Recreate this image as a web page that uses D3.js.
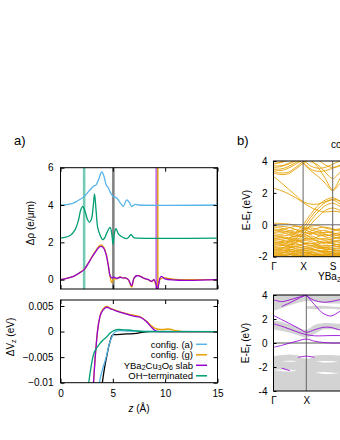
<!DOCTYPE html>
<html>
<head>
<meta charset="utf-8">
<script src="https://cdnjs.cloudflare.com/ajax/libs/d3/7.8.5/d3.min.js"></script>
<style>
body { margin: 0; background: #fff; }
svg text { font-family: "Liberation Sans", Arial, sans-serif; font-size: 10px; fill: #000; }
</style>
</head>
<body>
<script>
// ---- panel a), top: charge difference (e/um) vs z (A)
var zBlue = [0, 1.0, 1.56, 2.26, 2.67, 3.15, 3.4, 3.63, 3.94, 4.12, 4.36, 4.58, 4.8, 5.05, 5.37, 5.79, 6.0, 6.33, 6.58, 6.8, 7.12, 7.5, 15];
var rhoBlue = [4.0, 4.06, 4.2, 4.45, 4.72, 5.0, 5.08, 5.36, 5.77, 5.6, 5.09, 4.91, 4.64, 4.46, 4.37, 4.05, 3.93, 4.28, 4.14, 3.92, 4.03, 4.0, 4.0];

var zGreen = [0, 0.92, 1.4, 1.72, 1.94, 2.13, 2.35, 2.6, 2.78, 2.98, 3.12, 3.25, 3.4, 3.56, 3.78, 4.02, 4.2, 4.42, 4.74, 4.9, 5.02, 5.14, 5.31, 5.53, 5.85, 6.33, 6.55, 6.74, 7.0, 7.4, 15];
var rhoGreen = [2.23, 2.37, 2.68, 3.2, 3.75, 3.93, 3.65, 3.2, 3.08, 3.3, 3.9, 4.59, 3.7, 2.77, 2.4, 2.14, 2.22, 2.5, 2.8, 2.45, 1.9, 2.45, 2.73, 2.45, 2.3, 2.2, 2.3, 2.42, 2.25, 2.23, 2.23];

var zSlab = [0, 1.24, 1.88, 2.26, 2.67, 3.0, 3.31, 3.62, 3.85, 4.1, 4.36, 4.58, 4.74, 4.9, 5.12, 5.37, 5.69, 6.0, 6.2, 6.49, 6.8, 7.03, 7.28, 7.6, 7.92, 8.39, 8.71, 8.93, 9.1, 9.25, 9.4, 9.5, 9.66, 9.98, 15];
var rhoSlab = [0, 0.18, 0.39, 0.54, 0.89, 1.2, 1.46, 1.7, 1.78, 1.7, 1.34, 0.71, 0.21, 0.09, 0.13, 0.07, 0.13, 0.08, 0.1, 0.0, -0.32, 0.09, 0.21, 0.18, 0.09, 0.0, -0.09, 0.0, -0.18, -0.55, -0.2, 0.09, 0.18, 0.04, 0.0];

var zConfG = [0, 1.24, 1.88, 2.26, 2.67, 3.0, 3.31, 3.62, 3.85, 4.1, 4.36, 4.58, 4.74, 4.9, 5.12, 5.37, 5.69, 6.0, 6.2, 6.49, 6.8, 7.03, 7.28, 7.6, 7.92, 8.39, 8.71, 8.93, 9.1, 9.3, 9.5, 9.8, 10.5, 11, 15];
var rhoConfG = [0, 0.18, 0.39, 0.55, 0.9, 1.22, 1.5, 1.76, 1.86, 1.76, 1.38, 0.72, 0.15, -0.15, 0.05, 0.04, 0.15, 0.08, 0.1, -0.02, -0.4, 0.08, 0.22, 0.2, 0.08, 0.0, -0.1, 0.0, -0.25, -0.3, 0.0, 0.1, 0.05, 0.02, 0.0];

// vertical markers (z positions)
var vLineZ = [2.26, 5.05, 15, 9.18, 9.3];
var vLineColor = ["rgba(0,158,115,0.55)", "rgba(0,0,0,0.5)", "rgba(0,0,0,0.5)", "rgba(148,0,211,0.55)", "rgba(230,159,0,0.9)"];

// ---- panel a), bottom: potential difference (eV) vs z (A)
var zVBlack = [3.85, 4.0, 4.2, 4.42, 4.6, 4.74, 4.9, 5.05, 5.2, 6.0, 7.0, 8.5, 15];
var vBlack = [-0.013, -0.01, -0.0072, -0.0048, -0.003, -0.0019, -0.0009, -0.0006, -0.0006, -0.0005, -0.0004, 0.0, 0.0];
var zVBlue = [3.55, 3.72, 4.0, 4.25, 4.42, 4.65, 4.9, 5.21, 5.69, 6.5, 15];
var vBlue = [-0.013, -0.01, -0.0075, -0.0058, -0.0045, -0.0025, -0.0011, -0.0001, 0.0002, 0.0001, 0];
var zVOrange = [3.0, 3.15, 3.3, 3.53, 3.78, 4.1, 4.42, 4.74, 5.37, 6.33, 7.0, 7.6, 8.23, 8.71, 9.2, 9.8, 10.3, 11, 12, 15];
var vOrange = [-0.013, -0.01, -0.0055, 0.0, 0.0031, 0.0045, 0.0049, 0.0046, 0.0041, 0.0035, 0.0032, 0.0029, 0.002, 0.0011, 0.0005, 0.0004, 0.0005, 0.0002, 0, 0];
var zVPurple = [3.0, 3.15, 3.3, 3.53, 3.78, 4.1, 4.42, 4.74, 5.37, 6.33, 7.0, 7.6, 8.23, 8.71, 9.03, 9.4, 15];
var vPurple = [-0.013, -0.01, -0.0055, 0.0, 0.003, 0.0043, 0.00475, 0.0045, 0.004, 0.0034, 0.003, 0.0028, 0.0019, 0.0008, 0.0002, 0, 0];
var zVGreen = [2.55, 2.7, 2.95, 3.2, 3.4, 3.78, 4.1, 4.42, 4.74, 5.21, 5.53, 6.33, 7.0, 8.0, 15];
var vGreen = [-0.013, -0.01, -0.0065, -0.0042, -0.0034, -0.0023, -0.0016, -0.001, -0.0003, 0.0003, 0.0004, 0.0003, 0.0002, 0.0, 0.0];

var legendNames = ["config. (a)", "config. (g)", "slab", "OH\u2212terminated"];
var legendColors = ["#56b4e9", "#e69f00", "#9400d3", "#009e73"];

var rhoTicks = [0, 2, 4, 6];
var vTicks = [-0.01, -0.005, 0, 0.005];
var vTickLabels = ["\u22120.01", "\u22120.005", "0", "0.005"];
var zTicks = [0, 5, 10, 15];

// ---- panel b), top: bands along Gamma-X-S (energies in eV at k grid)
var kTop = [0, 0.25, 0.5, 0.75, 1, 1.25, 1.5, 1.75, 2, 2.25, 2.5];
var kTopTicks = [0, 1, 2];
var kTopLabels = ["\u0393", "X", "S"];
var eTopTicks = [-2, 0, 2, 4];
var bandsTop = [
    [3.95, 4.1, null, null, null, null, null, null, null, null, null],
    [3.85, 3.9, 4.05, null, null, null, null, null, null, null, null],
    [3.8, 3.95, 4.1, null, null, null, null, null, null, null, null],
    [3.7, 3.7, 3.8, 4.0, 4.1, null, null, null, null, null, null],
    [3.6, 3.65, 3.85, 4.1, null, null, null, null, null, null, null],
    [3.5, 3.5, 3.65, 3.9, 4.1, null, null, null, null, null, null],
    [3.45, 3.4, 3.55, 3.8, 4.1, null, null, null, null, null, null],
    [3.35, 3.25, 3.3, 3.6, 3.95, 4.1, null, null, null, null, null],
    [3.25, 3.15, 3.2, 3.5, 3.85, 4.1, null, null, null, null, null],
    [3.05, 2.65, 2.25, 1.85, 1.45, 1.3, 1.3, 1.45, 1.6, 1.5, 1.3],
    [2.3, 2.15, 1.95, 1.7, 1.4, 1.1, 0.9, 0.8, 0.85, 0.8, 0.7],
    [null, null, null, null, 4.1, 3.7, 3.55, 3.6, 3.8, 4.0, 4.1],
    [null, null, null, null, 3.9, 3.5, 3.35, 3.4, 3.55, 3.7, 3.9],
    [null, null, null, 4.1, 3.85, 3.4, 3.05, 2.6, 2.15, 2.6, 3.1],
    [null, null, null, null, null, 3.95, 3.75, 3.3, 2.9, 3.3, 3.8],
    [null, null, null, null, null, 4.1, 3.6, 2.9, 2.2, 2.9, 3.6],
    [null, null, null, null, null, null, 4.1, 3.75, 3.6, 3.75, 4.1],
    [null, null, -0.95, -0.5, 0.0, 0.65, 1.2, 1.55, 1.7, 1.45, 1.0],
    [null, null, -1.15, -0.7, -0.2, 0.45, 1.0, 1.4, 1.55, 1.3, 0.9],
    [null, null, -1.35, -0.9, -0.4, 0.25, 0.8, 1.2, 1.35, 1.15, 0.8],
    [null, null, -1.55, -1.1, -0.6, 0.0, 0.5, 0.9, 1.05, 0.9, 0.6],
    [0.1, 0.08, 0.05, -0.05, -0.25, -0.45, -0.6, -0.45, -0.5, -0.6, -0.7],
    [-0.05, -0.1, -0.15, -0.3, -0.5, -0.4, -0.2, -0.15, -0.25, -0.4, -0.5],
    [-0.15, -0.2, -0.35, -0.45, -0.3, -0.1, -0.05, -0.2, -0.3, -0.25, -0.2],
    [-0.25, -0.3, -0.2, -0.1, -0.15, -0.3, -0.45, -0.5, -0.4, -0.3, -0.35],
    [-0.3, -0.45, -0.4, -0.3, -0.45, -0.55, -0.4, -0.35, -0.55, -0.5, -0.45],
    [-0.4, -0.35, -0.45, -0.5, -0.35, -0.2, -0.3, -0.6, -0.7, -0.6, -0.55],
    [-0.5, -0.45, -0.6, -0.75, -0.65, -0.5, -0.65, -0.7, -0.6, -0.7, -0.65],
    [-0.55, -0.6, -0.5, -0.65, -0.75, -0.6, -0.5, -0.75, -0.85, -0.8, -0.75],
    [-0.65, -0.7, -0.65, -0.55, -0.8, -0.9, -0.75, -0.6, -0.75, -0.85, -0.8],
    [-0.7, -0.75, -0.8, -0.7, -0.6, -0.8, -0.9, -0.85, -1.0, -0.95, -0.9],
    [-0.8, -0.9, -0.85, -0.85, -0.9, -0.7, -0.85, -0.95, -0.9, -0.75, -0.85],
    [-0.85, -0.8, -0.9, -1.0, -0.95, -0.85, -1.05, -1.1, -1.05, -1.1, -1.1],
    [-0.9, -0.95, -1.05, -1.1, -1.0, -0.95, -1.0, -1.2, -1.1, -1.0, -1.05],
    [-0.95, -1.05, -1.0, -0.9, -1.1, -1.2, -1.1, -1.0, -1.2, -1.25, -1.2],
    [-1.05, -1.15, -1.1, -1.0, -1.15, -1.3, -1.2, -1.1, -1.15, -1.3, -1.25],
    [-1.1, -1.1, -1.2, -1.25, -1.2, -1.05, -1.25, -1.3, -1.3, -1.2, -1.3],
    [-1.15, -1.2, -1.3, -1.35, -1.25, -1.15, -1.35, -1.4, -1.3, -1.4, -1.35],
    [-1.2, -1.3, -1.25, -1.15, -1.35, -1.4, -1.3, -1.45, -1.4, -1.35, -1.4],
    [-1.3, -1.25, -1.4, -1.45, -1.4, -1.3, -1.45, -1.5, -1.55, -1.5, -1.5],
    [-1.35, -1.4, -1.45, -1.35, -1.45, -1.5, -1.4, -1.55, -1.5, -1.45, -1.5],
    [-1.4, -1.45, -1.35, -1.5, -1.55, -1.6, -1.5, -1.4, -1.6, -1.65, -1.6],
    [-1.45, -1.5, -1.5, -1.6, -1.65, -1.55, -1.6, -1.6, -1.7, -1.7, -1.6],
    [-1.5, -1.6, -1.55, -1.6, -1.5, -1.45, -1.65, -1.7, -1.65, -1.6, -1.7],
    [-1.55, -1.65, -1.6, -1.7, -1.6, -1.75, -1.7, -1.65, -1.75, -1.8, -1.75],
    [-1.6, -1.55, -1.7, -1.65, -1.75, -1.7, -1.6, -1.75, -1.8, -1.75, -1.8],
    [-1.65, -1.7, -1.8, -1.85, -1.8, -1.7, -1.85, -1.8, -1.9, -1.85, -1.9],
    [-1.7, -1.75, -1.65, -1.8, -1.7, -1.85, -1.8, -1.7, -1.85, -1.9, -1.85],
    [-1.75, -1.8, -1.75, -1.9, -1.9, -1.95, -1.9, -1.85, -1.95, -1.95, -1.9],
    [-1.8, -1.85, -1.9, -1.75, -1.85, -1.8, -1.95, -1.9, -1.8, -1.85, -1.9],
    [-1.85, -1.9, -1.95, -2.0, -1.9, -1.85, -2.0, -1.95, -2.0, -2.0, -2.0],
    [-1.9, -1.95, -1.85, -1.95, -2.0, -1.9, -1.85, -2.0, -1.95, -1.9, -1.95],
    [-1.95, -1.9, -2.0, -1.9, -1.95, -2.0, -1.95, -1.9, -2.0, -2.0, -2.0]
];

// ---- panel b), bottom: projected bulk (grey) and surface bands (purple)
var kBot = [0, 0.25, 0.5, 0.75, 1, 1.25, 1.5, 1.75, 2, 2.25];
var kBotTicks = [0, 1];
var kBotLabels = ["\u0393", "X"];
var eBotTicks = [-4, -2, 0, 2, 4];
var bulkHi = [
    [4.1, 4.1, 4.1, 4.1, 4.1, 4.1, 4.1, 4.1, 4.1, 4.1],
    [null, null, null, null, 3.05, 3.1, 3.1, 3.05, 3.0, 3.0],
    [1.9, 1.75, 1.55, 1.3, 1.1, 1.5, 1.65, 1.65, 1.6, 1.6],
    [-1.1, -1.0, -0.95, -1.05, -1.2, -1.05, -1.0, -1.0, -1.05, -1.05]
];
var bulkLo = [
    [2.7, 2.9, 3.15, 3.35, 3.5, 3.45, 3.35, 3.3, 3.3, 3.3],
    [null, null, null, null, 2.85, 2.8, 2.85, 2.85, 2.8, 2.8],
    [1.15, 1.0, 0.85, 0.65, 0.45, 0.75, 1.1, 1.15, 1.1, 1.1],
    [-4.1, -4.1, -4.1, -4.1, -4.1, -4.1, -4.1, -4.1, -4.1, -4.1]
];
var gapHi = [
    [null, -1.5, -1.47, -1.5, null, null, null, null, null, null],
    [null, null, null, null, null, -1.55, -1.5, -1.5, -1.55, null],
    [-2.25, -2.2, -2.22, -2.3, null, null, null, null, null, null],
    [null, null, null, null, null, -2.5, -2.42, -2.45, -2.5, null],
    [null, null, null, -1.2, -1.12, -1.2, null, null, null, null]
];
var gapLo = [
    [null, -1.5, -1.57, -1.5, null, null, null, null, null, null],
    [null, null, null, null, null, -1.55, -1.62, -1.62, -1.55, null],
    [-2.25, -2.35, -2.38, -2.3, null, null, null, null, null, null],
    [null, null, null, null, null, -2.5, -2.56, -2.58, -2.5, null],
    [null, null, null, -1.2, -1.3, -1.2, null, null, null, null]
];
var surfBands = [
    [-0.35, -0.2, 0.0, 0.18, 0.33, 0.15, 0.05, 0.0, 0.0, 0.0],
    [2.3, 1.95, 1.6, 1.25, 0.9, 1.1, 1.3, 1.3, 1.1, 1.0],
    [1.6, 1.4, 1.15, 0.9, 0.7, 0.6, 0.6, 0.62, 0.62, 0.62],
    [null, null, null, null, 4.0, 3.2, 2.5, 2.25, 2.6, 3.0],
    [null, null, null, null, 3.95, 3.55, 3.4, 3.45, 3.6, 3.7],
    [3.6, 3.45, 3.6, 3.8, 4.0, null, null, null, null, null],
    [null, 3.05, 3.35, 3.7, 4.0, null, null, null, null, null],
    [null, null, null, -1.2, -1.1, -1.2, null, null, null, null],
    [null, -2.1, -2.3, null, null, null, null, null, null, null]
];

var svg;
var tickFont = "Liberation Sans, Arial, sans-serif";

window.onload = function () {
    svg = d3.select("body").append("svg")
        .attr("width", 340)
        .attr("height", 440)
        .style("background", "#fff");
    drawTopLeft();
    drawBottomLeft();
    drawTopRight();
    drawBottomRight();
};

function pairs(xs, ys) {
    return xs.map(function (x, i) { return [x, ys[i]]; });
}

function plainNum(d) {
    return String(d);
}

function styleAxis(a) {
    a.select(".domain").remove();
    a.selectAll("text").style("font-size", "10px").style("font-family", tickFont);
}

function clipRect(id, x, y, w, h) {
    svg.append("clipPath").attr("id", id)
        .append("rect").attr("x", x).attr("y", y).attr("width", w).attr("height", h);
}

function frame(x0, y0, x1, y1) {
    svg.append("rect")
        .attr("x", x0).attr("y", y0)
        .attr("width", x1 - x0).attr("height", y1 - y0)
        .attr("fill", "none").attr("stroke", "#000").attr("stroke-width", 1);
}

// text with chemical-style subscripts: parts alternate normal / subscript
function subText(t, parts) {
    parts.forEach(function (p, i) {
        if (i % 2 == 1) {
            t.append("tspan").attr("dy", 1.6).style("font-size", "7px").text(p);
        } else {
            t.append("tspan").attr("dy", i == 0 ? 0 : -1.6).text(p);
        }
    });
}

function drawTopLeft() {
    var x = d3.scaleLinear().domain([0, 15]).range([60.5, 217.5]);
    var y = d3.scaleLinear().domain([-0.5, 6]).range([289, 167.7]);
    clipRect("clipA", 60.5, 167.7, 157, 121.3);

    var g = svg.append("g").attr("clip-path", "url(#clipA)");
    // vertical markers
    g.selectAll(".vl").data(vLineZ).enter().append("line")
        .attr("x1", function (d) { return x(d); })
        .attr("x2", function (d) { return x(d); })
        .attr("y1", 160).attr("y2", 300)
        .attr("stroke", function (d, i) { return vLineColor[i]; })
        .attr("stroke-width", function (d, i) { return i == 4 ? 1.5 : 2.5; });

    var line = d3.line()
        .x(function (d) { return x(d[0]); })
        .y(function (d) { return y(d[1]); })
        .curve(d3.curveCatmullRom);

    var curves = [[zBlue, rhoBlue, "#56b4e9"], [zGreen, rhoGreen, "#009e73"],
                  [zConfG, rhoConfG, "#e69f00"], [zSlab, rhoSlab, "#9400d3"]];
    curves.forEach(function (c) {
        g.append("path").attr("d", line(pairs(c[0], c[1])))
            .attr("fill", "none").attr("stroke", c[2]).attr("stroke-width", 1.3);
    });

    svg.append("g").attr("transform", "translate(60.5,0)")
        .call(d3.axisLeft(y).tickValues(rhoTicks).tickSize(-4).tickSizeOuter(0).tickPadding(7).tickFormat(plainNum))
        .call(styleAxis);
    svg.append("g").attr("transform", "translate(217.5,0)")
        .call(d3.axisRight(y).tickValues(rhoTicks).tickSize(-4).tickSizeOuter(0).tickFormat(""))
        .call(styleAxis);
    svg.append("g").attr("transform", "translate(0,289)")
        .call(d3.axisBottom(x).tickValues(zTicks).tickSize(-4).tickSizeOuter(0).tickFormat(""))
        .call(styleAxis);
    svg.append("g").attr("transform", "translate(0,167.7)")
        .call(d3.axisTop(x).tickValues(zTicks).tickSize(-4).tickSizeOuter(0).tickFormat(""))
        .call(styleAxis);
    frame(60.5, 167.7, 217.5, 289);

    svg.append("text").attr("transform", "translate(34,223) rotate(-90)")
        .attr("text-anchor", "middle").text("\u0394\u03c1 (e/\u03bcm)");
    svg.append("text").attr("x", 14).attr("y", 145).style("font-size", "13px").text("a)");
}

function drawBottomLeft() {
    var x = d3.scaleLinear().domain([0, 15]).range([60.5, 217.5]);
    var y = d3.scaleLinear().domain([-0.01, 0.00617]).range([382.7, 300]);
    clipRect("clipV", 60.5, 300, 157, 82.7);

    var g = svg.append("g").attr("clip-path", "url(#clipV)");
    var line = d3.line()
        .x(function (d) { return x(d[0]); })
        .y(function (d) { return y(d[1]); })
        .curve(d3.curveMonotoneX);
    var curves = [[zVBlack, vBlack, "#000"], [zVBlue, vBlue, "#56b4e9"], [zVOrange, vOrange, "#e69f00"],
                  [zVPurple, vPurple, "#9400d3"], [zVGreen, vGreen, "#009e73"]];
    curves.forEach(function (c) {
        g.append("path").attr("d", line(pairs(c[0], c[1])))
            .attr("fill", "none").attr("stroke", c[2]).attr("stroke-width", 1.3);
    });

    svg.append("g").attr("transform", "translate(60.5,0)")
        .call(d3.axisLeft(y).tickValues(vTicks).tickSize(-4).tickSizeOuter(0).tickPadding(7)
            .tickFormat(function (d, i) { return vTickLabels[i]; }))
        .call(styleAxis);
    svg.append("g").attr("transform", "translate(217.5,0)")
        .call(d3.axisRight(y).tickValues(vTicks).tickSize(-4).tickSizeOuter(0).tickFormat(""))
        .call(styleAxis);
    svg.append("g").attr("transform", "translate(0,382.7)")
        .call(d3.axisBottom(x).tickValues(zTicks).tickSize(-4).tickSizeOuter(0).tickPadding(7).tickFormat(plainNum))
        .call(styleAxis);
    svg.append("g").attr("transform", "translate(0,300)")
        .call(d3.axisTop(x).tickValues(zTicks).tickSize(-4).tickSizeOuter(0).tickFormat(""))
        .call(styleAxis);
    frame(60.5, 300, 217.5, 382.7);

    // legend
    var rowY = [344.3, 354.8, 365.3, 375.8];
    legendNames.forEach(function (name, i) {
        var t = svg.append("text").attr("x", 193).attr("y", rowY[i] + 3.3)
            .attr("text-anchor", "end").style("font-size", "9.5px");
        if (name == "slab") {
            subText(t, ["YBa", "2", "Cu", "3", "O", "6", " slab"]);
        } else {
            t.text(name);
        }
        svg.append("line").attr("x1", 196).attr("x2", 207)
            .attr("y1", rowY[i]).attr("y2", rowY[i])
            .attr("stroke", legendColors[i]).attr("stroke-width", 1.5);
    });

    var yl = svg.append("text").attr("transform", "translate(14,337) rotate(-90)").attr("text-anchor", "middle");
    subText(yl, ["\u0394V", "z", " (eV)"]);

    var xl = svg.append("text").attr("x", 139).attr("y", 412).attr("text-anchor", "middle");
    xl.append("tspan").style("font-style", "italic").text("z");
    xl.append("tspan").text(" (\u00c5)");
}

function drawTopRight() {
    var x = d3.scaleLinear().domain([0, 2]).range([273.5, 332.7]);
    var y = d3.scaleLinear().domain([-2, 4]).range([256.7, 161]);
    clipRect("clipB1", 273.5, 161, 80, 95.7);

    var g = svg.append("g").attr("clip-path", "url(#clipB1)");
    var line = d3.line()
        .defined(function (d) { return d[1] != null; })
        .x(function (d) { return x(d[0]); })
        .y(function (d) { return y(d[1]); })
        .curve(d3.curveCatmullRom);
    bandsTop.forEach(function (b) {
        g.append("path").attr("d", line(pairs(kTop, b)))
            .attr("fill", "none").attr("stroke", "#e69f00").attr("stroke-width", 0.9);
    });
    g.selectAll(".kl").data([1, 2]).enter().append("line")
        .attr("x1", function (d) { return x(d); }).attr("x2", function (d) { return x(d); })
        .attr("y1", 161).attr("y2", 256.7).attr("stroke", "#666").attr("stroke-width", 1);
    g.append("line").attr("x1", 273.5).attr("x2", 345).attr("y1", y(0)).attr("y2", y(0))
        .attr("stroke", "#666").attr("stroke-width", 1);

    svg.append("g").attr("transform", "translate(273.5,0)")
        .call(d3.axisLeft(y).tickValues(eTopTicks).tickSize(-3).tickSizeOuter(0).tickPadding(6).tickFormat(plainNum))
        .call(styleAxis);
    svg.append("g").attr("transform", "translate(0,256.7)")
        .call(d3.axisBottom(x).tickValues(kTopTicks).tickSize(0).tickPadding(6)
            .tickFormat(function (d, i) { return kTopLabels[i]; }))
        .call(styleAxis);
    frame(273.5, 161, 360, 256.7);

    var yl = svg.append("text").attr("transform", "translate(250,210) rotate(-90)").attr("text-anchor", "middle");
    subText(yl, ["E-E", "f", " (eV)"]);

    var xl = svg.append("text").attr("x", 318).attr("y", 280);
    subText(xl, ["YBa", "2", "Cu", "3", "O", "6"]);

    svg.append("text").attr("x", 331).attr("y", 148).text("config. (a)");
    svg.append("text").attr("x", 237).attr("y", 145).style("font-size", "13px").text("b)");
}

function drawBottomRight() {
    var x = d3.scaleLinear().domain([0, 1]).range([273.5, 306.3]);
    var y = d3.scaleLinear().domain([-4, 4]).range([391, 295]);
    clipRect("clipB2", 273.5, 295, 80, 96);

    var g = svg.append("g").attr("clip-path", "url(#clipB2)");
    var area = d3.area()
        .defined(function (d) { return d[1] != null && d[2] != null; })
        .x(function (d) { return x(d[0]); })
        .y0(function (d) { return y(d[2]); })
        .y1(function (d) { return y(d[1]); })
        .curve(d3.curveCatmullRom);
    function triples(hi, lo) {
        return kBot.map(function (k, i) { return [k, hi[i], lo[i]]; });
    }
    bulkHi.forEach(function (hi, i) {
        g.append("path").attr("d", area(triples(hi, bulkLo[i]))).attr("fill", "#d3d3d3");
    });
    gapHi.forEach(function (hi, i) {
        g.append("path").attr("d", area(triples(hi, gapLo[i]))).attr("fill", "#fff");
    });

    g.append("line").attr("x1", x(1)).attr("x2", x(1)).attr("y1", 295).attr("y2", 391)
        .attr("stroke", "#666").attr("stroke-width", 1);
    g.append("line").attr("x1", 273.5).attr("x2", 345).attr("y1", y(0)).attr("y2", y(0))
        .attr("stroke", "#555").attr("stroke-width", 1);

    var line = d3.line()
        .defined(function (d) { return d[1] != null; })
        .x(function (d) { return x(d[0]); })
        .y(function (d) { return y(d[1]); })
        .curve(d3.curveCatmullRom);
    surfBands.forEach(function (b) {
        g.append("path").attr("d", line(pairs(kBot, b)))
            .attr("fill", "none").attr("stroke", "#9400d3").attr("stroke-width", 1).attr("opacity", 0.85);
    });

    svg.append("g").attr("transform", "translate(273.5,0)")
        .call(d3.axisLeft(y).tickValues(eBotTicks).tickSize(-3).tickSizeOuter(0).tickPadding(6).tickFormat(plainNum))
        .call(styleAxis);
    svg.append("g").attr("transform", "translate(0,391)")
        .call(d3.axisBottom(x).tickValues(kBotTicks).tickSize(0).tickPadding(6)
            .tickFormat(function (d, i) { return kBotLabels[i]; }))
        .call(styleAxis);
    frame(273.5, 295, 360, 391);

    var yl = svg.append("text").attr("transform", "translate(249,343) rotate(-90)").attr("text-anchor", "middle");
    subText(yl, ["E-E", "f", " (eV)"]);
}
</script>
</body>
</html>
